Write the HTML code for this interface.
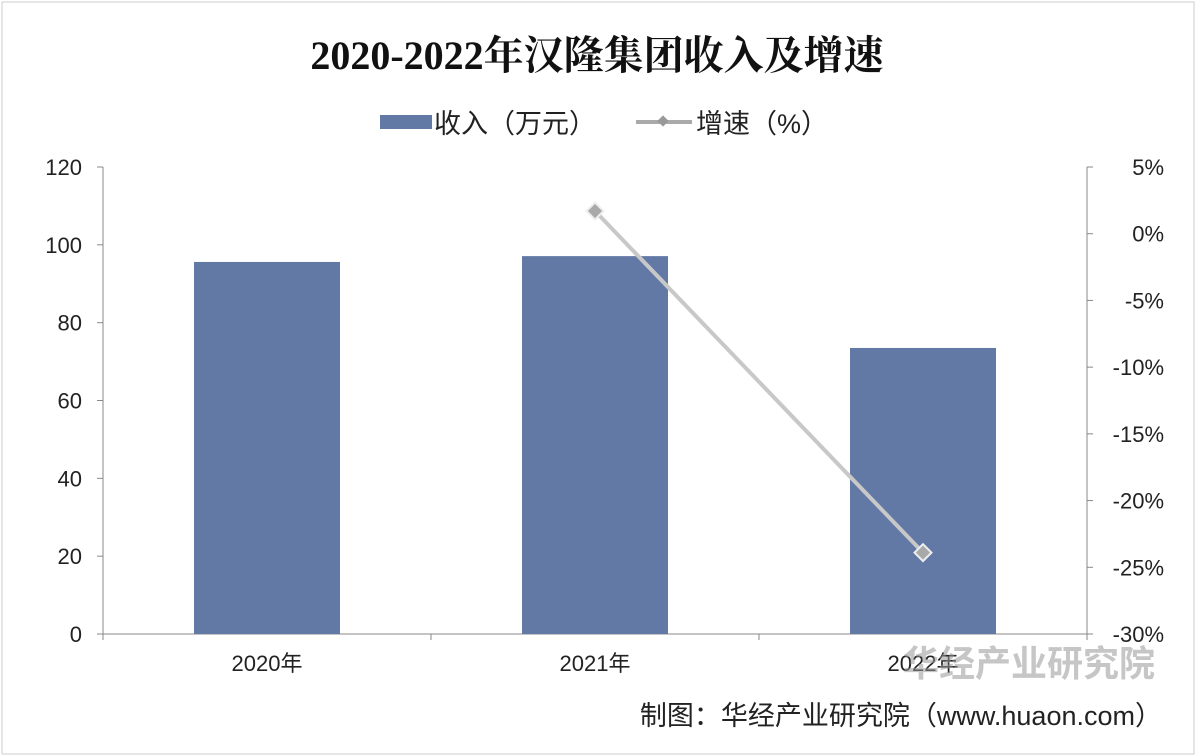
<!DOCTYPE html>
<html><head><meta charset="utf-8"><style>
body{margin:0;background:#fff;width:1196px;height:756px;overflow:hidden;font-family:"Liberation Sans","Noto Sans CJK SC",sans-serif;}
</style></head><body>
<svg id="chart" width="1196" height="756" style="position:absolute;left:0;top:0">
<rect x="2" y="2" width="1192" height="752" fill="#fff" stroke="#ccc"/>
<text x="597" y="69" text-anchor="middle" font-size="40" font-weight="bold" font-family="'Liberation Serif','Noto Serif CJK SC',serif" fill="#111">2020-2022年汉隆集团收入及增速</text>
<g>
<rect x="380" y="115" width="52" height="14" fill="#6279a6"/>
<text x="434" y="133" font-size="27" fill="#222">收入（万元）</text>
<line x1="636" y1="122" x2="692" y2="122" stroke="#aaa" stroke-width="4"/>
<rect x="659" y="117" width="8" height="8" fill="#999" transform="rotate(45 663 121)"/>
<text x="696" y="133" font-size="27" fill="#222">增速（%）</text>
</g>
<g id="axes"></g>
<g id="marks"></g>
<text x="1162" y="725" text-anchor="end" font-size="27" fill="#222">制图：华经产业研究院（www.huaon.com）</text>
<text x="1155" y="676" text-anchor="end" font-size="36" font-weight="bold" fill="#999" opacity="0.55">华经产业研究院</text>
</svg>
<script>
const categories=["2020年","2021年","2022年"];
const revenue=[95.6,97.1,73.5];
const growth=[null,1.7,-23.9];
const leftTicks=[0,20,40,60,80,100,120];
const rightTicks=[5,0,-5,-10,-15,-20,-25,-30];
const X0=103,X1=1087,Y0=634,Y1=167;
const yL=v=>Y0-(v-0)/(120-0)*(Y0-Y1);
const yR=v=>Y0-(v+30)/35*(Y0-Y1);
const band=(X1-X0)/categories.length;
const xC=i=>X0+band*(i+0.5);
const NS="http://www.w3.org/2000/svg";
function mk(tag,attrs,parent,text){const e=document.createElementNS(NS,tag);for(const k in attrs)e.setAttribute(k,attrs[k]);if(text!=null)e.textContent=text;parent.appendChild(e);return e;}
const axes=document.getElementById('axes'),marks=document.getElementById('marks');
let e;
e=mk('line',{x1:X0,y1:Y1,x2:X0,y2:Y0,stroke:'#888'},axes);


e=mk('line',{x1:X1,y1:Y1,x2:X1,y2:Y0,stroke:'#888'},axes);


e=mk('line',{x1:X0,y1:Y0,x2:X1,y2:Y0,stroke:'#888'},axes);


leftTicks.forEach(t=>{const y=yL(t);
 e=mk('line',{x1:X0-6,y1:y,x2:X0,y2:y,stroke:'#888'},axes);
 
 
 e=mk('text',{x:82,y:y+8,'text-anchor':'end','font-size':22,fill:'#222'},axes,String(t));
 
 });
rightTicks.forEach(t=>{const y=yR(t);
 e=mk('line',{x1:X1,y1:y,x2:X1+6,y2:y,stroke:'#888'},axes);
 
 
 e=mk('text',{x:1164,y:y+8,'text-anchor':'end','font-size':22,fill:'#222'},axes,t+'%');
 
 });
for(let i=0;i<=categories.length;i++){e=mk('line',{x1:X0+band*i,y1:Y0,x2:X0+band*i,y2:Y0+6,stroke:'#888'},axes);
 
 }
categories.forEach((c,i)=>{
 e=mk('text',{x:xC(i),y:671,'text-anchor':'middle','font-size':22,fill:'#222'},axes,c);
 
 
 const bw=146;
 e=mk('rect',{x:xC(i)-bw/2,y:yL(revenue[i]),width:bw,height:Y0-yL(revenue[i]),fill:'#6279a6'},marks);
 
 });
const pts=growth.map((g,i)=>g==null?null:[xC(i),yR(g)]).filter(p=>p);
e=mk('polyline',{points:pts.map(p=>p.join(',')).join(' '),fill:'none',stroke:'#c8c8c8',"stroke-width":4},marks);


pts.forEach(p=>{e=mk('rect',{x:p[0]-6,y:p[1]-6,width:12,height:12,fill:'#a9a9a9',stroke:'#eee','stroke-width':2,transform:`rotate(45 ${p[0]} ${p[1]})`},marks);
 
 });
</script>
</body></html>
